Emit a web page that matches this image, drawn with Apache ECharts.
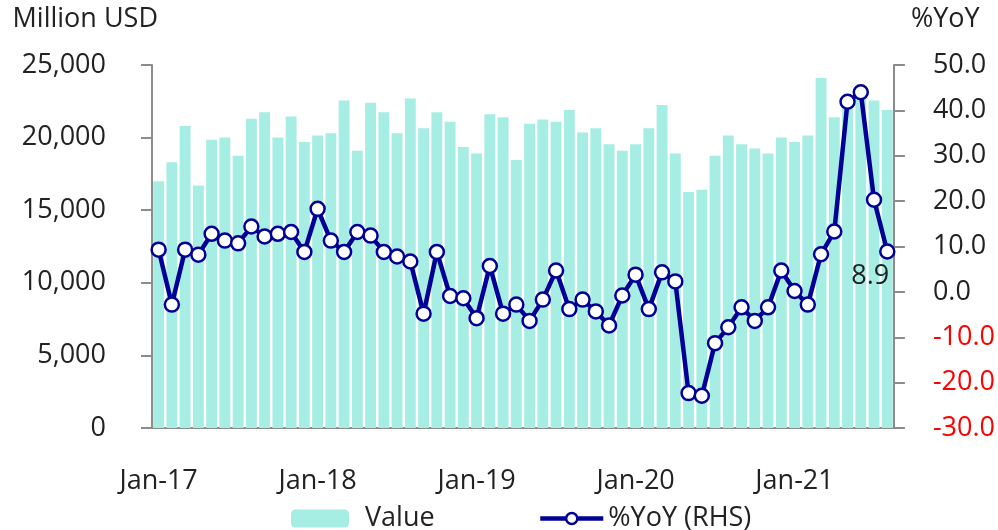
<!DOCTYPE html>
<html>
<head>
<meta charset="utf-8">
<script src="https://cdn.jsdelivr.net/npm/echarts@6/dist/echarts.min.js"></script>
<style>
  html, body { margin: 0; padding: 0; background: #fff; }
  #chart { width: 998px; height: 530px; }
</style>
</head>
<body>
<div id="chart"></div>
<script>
const months = [
  'Jan-17','Feb-17','Mar-17','Apr-17','May-17','Jun-17','Jul-17','Aug-17','Sep-17','Oct-17','Nov-17','Dec-17',
  'Jan-18','Feb-18','Mar-18','Apr-18','May-18','Jun-18','Jul-18','Aug-18','Sep-18','Oct-18','Nov-18','Dec-18',
  'Jan-19','Feb-19','Mar-19','Apr-19','May-19','Jun-19','Jul-19','Aug-19','Sep-19','Oct-19','Nov-19','Dec-19',
  'Jan-20','Feb-20','Mar-20','Apr-20','May-20','Jun-20','Jul-20','Aug-20','Sep-20','Oct-20','Nov-20','Dec-20',
  'Jan-21','Feb-21','Mar-21','Apr-21','May-21','Jun-21','Jul-21','Aug-21'
];

// export value, million USD
const value = [
  17000, 18300, 20800, 16700, 19850, 20000, 18750, 21300, 21750, 20000, 21450, 19700,
  20150, 20300, 22550, 19100, 22400, 21750, 20300, 22700, 20650, 21750, 21100, 19350,
  18900, 21600, 21400, 18450, 20950, 21250, 21100, 21900, 20350, 20650, 19550, 19100,
  19550, 20650, 22250, 18900, 16250, 16400, 18750, 20150, 19550, 19250, 18900, 20000,
  19700, 20150, 24100, 21400, 22400, 23000, 22550, 21900
];

// %YoY (RHS)
const yoy = [
  9.3, -2.8, 9.3, 8.2, 12.8, 11.3, 10.7, 14.4, 12.2, 12.8, 13.2, 8.8,
  18.3, 11.3, 8.8, 13.2, 12.4, 8.8, 7.8, 6.7, -4.8, 8.8, -0.9, -1.4,
  -5.8, 5.7, -4.8, -2.8, -6.4, -1.7, 4.7, -3.8, -1.7, -4.3, -7.4, -0.8,
  3.8, -3.8, 4.3, 2.3, -22.3, -22.9, -11.3, -7.8, -3.4, -6.4, -3.4, 4.7,
  0.2, -2.8, 8.3, 13.3, 41.9, 44.0, 20.3, 8.9
];

const font = "'Open Sans', sans-serif";
const axisGrey = '#8c8c8c';
const navy = '#000096';

const chart = echarts.init(document.getElementById('chart'));

const option = {
  animation: false,
  backgroundColor: '#fff',
  textStyle: { fontFamily: font },
  grid: { left: 152, right: 102, top: 65, bottom: 102 },
  legend: [
    {
      data: ['Value'],
      left: 286, top: 500,
      itemWidth: 58, itemHeight: 18,
      textStyle: { fontSize: 27, color: '#222', fontFamily: font, padding: [0, 0, 0, 11] }
    },
    {
      data: ['%YoY (RHS)'],
      left: 533, top: 500,
      itemWidth: 63, itemHeight: 14,
      lineStyle: { color: navy, width: 4.5 },
      itemStyle: { color: '#fff', borderColor: navy, borderWidth: 2.5 },
      textStyle: { fontSize: 27, color: '#222', fontFamily: font }
    }
  ],
  xAxis: {
    type: 'category',
    data: months,
    boundaryGap: true,
    axisLine: { lineStyle: { color: axisGrey, width: 2 } },
    axisTick: {
      length: 11,
      interval: (i) => i % 12 === 0,
      lineStyle: { color: axisGrey, width: 2 }
    },
    axisLabel: {
      interval: (i) => i % 12 === 0,
      margin: 40,
      fontSize: 27,
      color: '#222',
      fontFamily: font
    }
  },
  yAxis: [
    {
      type: 'value',
      min: 0, max: 25000, interval: 5000,
      name: 'Million USD',
      nameLocation: 'end',
      nameGap: 32,
      nameTextStyle: { fontSize: 27, color: '#222', align: 'right', padding: [0, -6, 0, 0], fontFamily: font },
      axisLine: { show: true, lineStyle: { color: axisGrey, width: 2 } },
      axisTick: { show: true, length: 11, lineStyle: { color: axisGrey, width: 2 } },
      splitLine: { show: false },
      axisLabel: {
        margin: 46,
        fontSize: 27,
        color: '#222',
        fontFamily: font,
        formatter: (v) => v.toLocaleString('en-US')
      }
    },
    {
      type: 'value',
      min: -30, max: 50, interval: 10,
      name: '%YoY',
      nameLocation: 'end',
      nameGap: 32,
      nameTextStyle: { fontSize: 27, color: '#222', align: 'left', padding: [0, 0, 0, 17], fontFamily: font },
      axisLine: { show: true, lineStyle: { color: axisGrey, width: 2 } },
      axisTick: { show: true, length: 11, lineStyle: { color: axisGrey, width: 2 } },
      splitLine: { show: false },
      axisLabel: {
        margin: 39,
        fontSize: 27,
        fontFamily: font,
        formatter: (v) => (v < 0 ? '{neg|' + v.toFixed(1) + '}' : '{pos|' + v.toFixed(1) + '}'),
        rich: {
          neg: { color: '#ff0000', fontSize: 27, fontFamily: font },
          pos: { color: '#222', fontSize: 27, fontFamily: font }
        }
      }
    }
  ],
  series: [
    {
      name: 'Value',
      type: 'bar',
      yAxisIndex: 0,
      data: value,
      barCategoryGap: '18%',
      itemStyle: { color: '#a6ede3' }
    },
    {
      name: '%YoY (RHS)',
      type: 'line',
      yAxisIndex: 1,
      data: yoy.map((v, i) => (i === yoy.length - 1
        ? { value: v, label: { show: true, position: 'bottom', distance: 3, offset: [-17, 0], fontSize: 27, color: '#222', fontFamily: font, formatter: (p) => p.value.toFixed(1) } }
        : v)),
      symbol: 'circle',
      symbolSize: 14,
      showSymbol: true,
      showAllSymbol: true,
      lineStyle: { color: navy, width: 4.5 },
      itemStyle: { color: '#fff', borderColor: navy, borderWidth: 2.5 },
      z: 5
    }
  ]
};

chart.setOption(option);
</script>
</body>
</html>
